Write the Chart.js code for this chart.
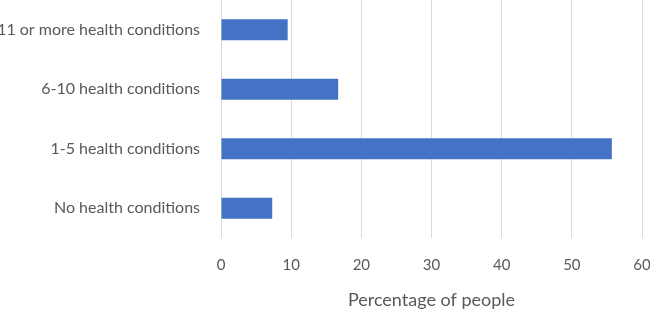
<!DOCTYPE html>
<html>
<head>
<meta charset="utf-8">
<script src="https://cdn.jsdelivr.net/npm/chart.js@4"></script>
<style>
  html, body { margin: 0; padding: 0; background: #ffffff; }
  #wrap { width: 650px; height: 311px; }
</style>
</head>
<body>
<div id="wrap"><canvas id="bar_chart"></canvas></div>
<script>
const categories = ['11 or more health conditions', '6-10 health conditions', '1-5 health conditions', 'No health conditions'];
const percentValues = [9.5, 16.7, 55.7, 7.3];
const xTicks = [0, 10, 20, 30, 40, 50, 60];

const ctx = document.getElementById('bar_chart').getContext('2d');

const cfg = {
  type: 'bar',
  data: {
    labels: categories,
    datasets: [{
      label: 'Percentage of people',
      data: percentValues,
      backgroundColor: '#4472c4',
      barPercentage: 0.7,
      categoryPercentage: 0.5
    }]
  },
  options: {
    responsive: true,
    maintainAspectRatio: false,
    animation: false,
    indexAxis: 'y',
    layout: {
      padding: { top: 0, right: 8, bottom: 0, left: 0 }
    },
    plugins: {
      legend: { display: false },
      tooltip: { enabled: false }
    },
    scales: {
      x: {
        min: 0,
        max: 60,
        afterBuildTicks: axis => { axis.ticks = xTicks.map(v => ({ value: v })); },
        // ตัด padding ซ้าย/ขวาที่ Chart.js เติมให้ป้ายแกน และกำหนดความสูงแกน x เอง
        afterFit: axis => { axis.paddingLeft = 0; axis.paddingRight = 0; axis.height = 73; },
        title: {
          display: true,
          text: 'Percentage of people',
          color: '#595959',
          font: { family: 'Lato', size: 18 },
          padding: { top: 15, bottom: 0 }
        },
        ticks: {
          color: '#595959',
          font: { family: 'Lato', size: 15 },
          padding: 18
        },
        grid: { color: '#d9d9d9', drawTicks: false },
        border: { display: false }
      },
      y: {
        afterFit: axis => { axis.width = 221; axis.paddingTop = 0; axis.paddingBottom = 0; },
        ticks: {
          color: '#595959',
          font: { family: 'Lato', size: 16 },
          padding: 21
        },
        grid: { display: false, drawTicks: false },
        border: { display: false }
      }
    }
  }
};

const bar_chart = new Chart(ctx, cfg);
</script>
</body>
</html>
